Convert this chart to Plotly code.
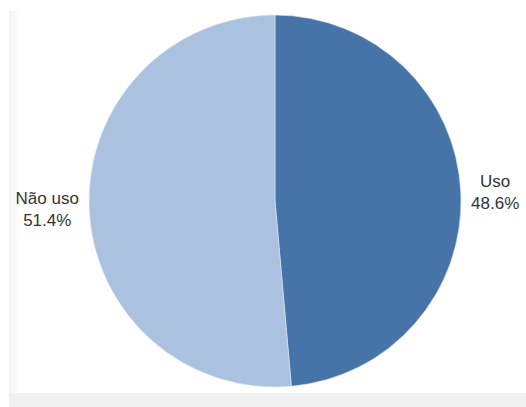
import plotly.graph_objects as go

# Share of respondents
labels = ["Uso", "Não uso"]
values = [48.6, 51.4]
colors = ["#4673a8", "#aac1df"]

W, H = 526, 407
cx, cy, r = 275, 201, 186  # pie centre and radius in pixels (from top-left)

fig = go.Figure(
    go.Pie(
        labels=labels,
        values=values,
        sort=False,
        direction="clockwise",
        rotation=0,
        marker=dict(colors=colors, line=dict(color="#dfe8f3", width=0.6)),
        textposition="outside",
        texttemplate="%{label}<br>%{percent:.1%}",
        textfont=dict(family="Liberation Sans, Arial, sans-serif", size=17, color="#333333"),
        hoverinfo="skip",
        showlegend=False,
        domain=dict(
            x=[(cx - r) / W, (cx + r) / W],
            y=[(H - cy - r) / H, (H - cy + r) / H],
        ),
    )
)

# faint panel frame: left edge stripe (fading) and bottom band
stripe = ["#f3f3f3", "#f6f6f6", "#f9f9f9", "#fcfcfc"]
for i, c in enumerate(stripe):
    fig.add_shape(type="rect", xref="paper", yref="paper", layer="below",
                  x0=(9 + i * 2.5) / W, x1=(9 + (i + 1) * 2.5) / W,
                  y0=(H - 393) / H, y1=(H - 11) / H,
                  fillcolor=c, line=dict(width=0))
fig.add_shape(type="rect", xref="paper", yref="paper", layer="below",
              x0=9 / W, x1=1, y0=0, y1=(H - 393) / H,
              fillcolor="#f0f0f0", line=dict(width=0))

fig.update_layout(
    width=W,
    height=H,
    margin=dict(l=0, r=0, t=0, b=0),
    paper_bgcolor="#ffffff",
    plot_bgcolor="#ffffff",
)

fig.write_html("out.html")
